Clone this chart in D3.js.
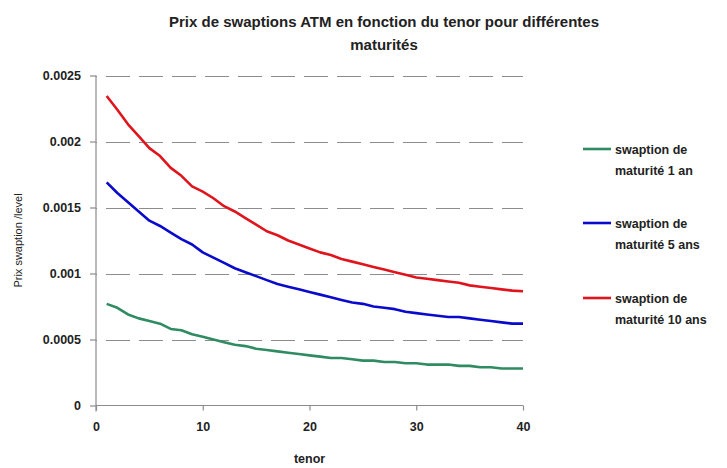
<!DOCTYPE html>
<html><head><meta charset="utf-8">
<script src="https://cdn.jsdelivr.net/npm/d3@7"></script>
<style>body{margin:0;background:#fff}svg{display:block}</style>
</head><body>
<svg id="c" width="727" height="468"></svg>
<script>
const tenors = d3.range(1, 41);
const seriesNames = ["swaption de|maturité 1 an", "swaption de|maturité 5 ans", "swaption de|maturité 10 ans"];
const mat1 = [0.00077,0.00074,0.00069,0.00066,0.00064,0.00062,0.00058,0.00057,0.00054,0.00052,
  0.00050,0.00048,0.00046,0.00045,0.00043,0.00042,0.00041,0.00040,0.00039,0.00038,
  0.00037,0.00036,0.00036,0.00035,0.00034,0.00034,0.00033,0.00033,0.00032,0.00032,
  0.00031,0.00031,0.00031,0.00030,0.00030,0.00029,0.00029,0.00028,0.00028,0.00028];
const mat5 = [0.00169,0.00161,0.00154,0.00147,0.00140,0.00136,0.00131,0.00126,0.00122,0.00116,
  0.00112,0.00108,0.00104,0.00101,0.00098,0.00095,0.00092,0.00090,0.00088,0.00086,
  0.00084,0.00082,0.00080,0.00078,0.00077,0.00075,0.00074,0.00073,0.00071,0.00070,
  0.00069,0.00068,0.00067,0.00067,0.00066,0.00065,0.00064,0.00063,0.00062,0.00062];
const mat10 = [0.002345,0.00224,0.00213,0.00204,0.00195,0.00189,0.00180,0.00174,0.00166,0.00162,
  0.00157,0.00151,0.00147,0.00142,0.00137,0.00132,0.00129,0.00125,0.00122,0.00119,
  0.00116,0.00114,0.00111,0.00109,0.00107,0.00105,0.00103,0.00101,0.00099,0.00097,
  0.00096,0.00095,0.00094,0.00093,0.00091,0.00090,0.00089,0.00088,0.00087,0.000865];
const xTicks = [0, 10, 20, 30, 40];
const yTicks = [0, 0.0005, 0.001, 0.0015, 0.002, 0.0025];
const yTickLabels = ["0", "0.0005", "0.001", "0.0015", "0.002", "0.0025"];
const colors = ["#2E8B62", "#0A0ACC", "#E0141C"];

const series = [mat1, mat5, mat10];
const svg = d3.select("#c");
const font = "'Liberation Sans', Arial, sans-serif";

const x = d3.scaleLinear().domain([0, 40]).range([96, 523]);
const y = d3.scaleLinear().domain([0, 0.0025]).range([405.5, 75.5]);

// gridlines
svg.append("g").selectAll("line").data(yTicks.filter(d => d > 0)).join("line")
  .attr("x1", x(0)).attr("x2", x(40))
  .attr("y1", d => Math.round(y(d)) + 0.5).attr("y2", d => Math.round(y(d)) + 0.5)
  .attr("stroke", "#8c8c8c").attr("stroke-width", 1.2).attr("stroke-dasharray", "24,9")
  .attr("stroke-dashoffset", -10);

// axes
const yAxis = d3.axisLeft(y).tickValues(yTicks).tickFormat((d, i) => yTickLabels[i]).tickSize(6).tickPadding(9);
const gy = svg.append("g").attr("transform", `translate(${x(0)},0)`).call(yAxis);
const xAxis = d3.axisBottom(x).tickValues(xTicks).tickFormat(d3.format("d")).tickSize(5).tickPadding(12);
const gx = svg.append("g").attr("transform", `translate(0,${y(0)})`).call(xAxis);
[gx, gy].forEach(g => {
  g.select(".domain").attr("stroke", "#8c8c8c").attr("stroke-width", 1.2);
  g.selectAll(".tick line").attr("stroke", "#8c8c8c").attr("stroke-width", 1.2);
  g.selectAll(".tick text").attr("fill", "#222").style("font-family", font)
    .style("font-size", "12.5px").style("font-weight", "bold");
});
gx.select(".domain").attr("d", `M${x(0)},0H${x(40)}`);
gy.select(".domain").attr("d", `M0,${y(0)+6}V${y(0.0025)}`);

// lines
const line = d3.line().x((d, i) => x(tenors[i])).y(d => y(d));
series.forEach((s, k) => {
  svg.append("path").datum(s).attr("d", line).attr("fill", "none")
    .attr("stroke", colors[k]).attr("stroke-width", 2.6).attr("stroke-linejoin", "round");
});

// title
const title = svg.append("text").attr("text-anchor", "middle").attr("fill", "#222")
  .style("font-family", font).style("font-size", "15px").style("font-weight", "bold");
title.append("tspan").attr("x", 384).attr("y", 27).text("Prix de swaptions ATM en fonction du tenor pour différentes");
title.append("tspan").attr("x", 384).attr("y", 50).text("maturités");

// axis titles
svg.append("text").attr("x", x(20)).attr("y", 463).attr("text-anchor", "middle").attr("fill", "#222")
  .style("font-family", font).style("font-size", "12.5px").style("font-weight", "bold").text("tenor");
svg.append("text").attr("transform", `translate(22,${(y(0)+y(0.0025))/2}) rotate(-90)`)
  .attr("text-anchor", "middle").attr("fill", "#222")
  .style("font-family", font).style("font-size", "11px").text("Prix swaption /level");

// legend
const legY = [149, 223, 298];
seriesNames.forEach((n, k) => {
  const g = svg.append("g");
  g.append("line").attr("x1", 583).attr("x2", 611).attr("y1", legY[k]).attr("y2", legY[k])
    .attr("stroke", colors[k]).attr("stroke-width", 2.6);
  const t = g.append("text").attr("fill", "#222").style("font-family", font)
    .style("font-size", "12.5px").style("font-weight", "bold");
  n.split("|").forEach((p, j) => {
    t.append("tspan").attr("x", 615).attr("y", legY[k] + 4.5 + j * 21).text(p);
  });
});
</script>
</body></html>
